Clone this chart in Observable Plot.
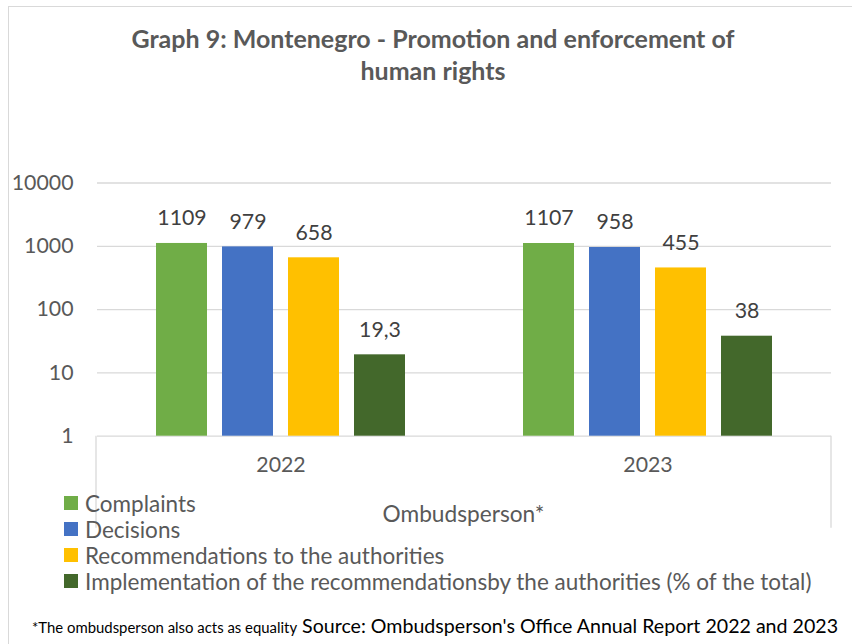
<!DOCTYPE html>
<html>
<head>
<meta charset="utf-8">
<script src="https://cdn.jsdelivr.net/npm/d3@7"></script>
<script src="https://cdn.jsdelivr.net/npm/@observablehq/plot@0.6"></script>
<style>
  html, body { margin: 0; padding: 0; background: #fff; }
  #wrap { position: relative; width: 852px; height: 644px; overflow: hidden; font-family: Lato, "Open Sans", sans-serif; }
  #frame { position: absolute; left: 8px; top: 6px; width: 900px; height: 700px; border-top: 1.5px solid #d9d9d9; border-left: 1.5px solid #d9d9d9; }
  #title { position: absolute; left: 0; width: 866px; top: 22px; text-align: center; font-weight: bold; font-size: 25px; line-height: 32px; color: #595959; }
  #chart { position: absolute; left: 0; top: 0; }
  #legend { position: absolute; left: 64px; top: 490px; font-size: 22.5px; color: #595959; }
  #legend .row { display: flex; align-items: center; height: 26px; white-space: nowrap; }
  #legend .sw { width: 14px; height: 14px; margin-right: 7px; }
  #foot { position: absolute; left: 32px; top: 614px; white-space: nowrap; }
  #foot .small { font-size: 14.9px; color: #000; }
  #foot .big { font-size: 19.6px; color: #000; margin-left: 5px; }
</style>
</head>
<body>
<div id="wrap">
  <div id="frame"></div>
  <div id="chart"></div>
  <div id="title"></div>
  <div id="legend"></div>
  <div id="foot"></div>
</div>
<script>
const titleLines = ["Graph 9: Montenegro - Promotion and enforcement of", "human rights"];
const years = ["2022", "2023"];
const series = [
  "Complaints",
  "Decisions",
  "Recommendations to the authorities",
  "Implementation of the recommendationsby the authorities (% of the total)"
];
const values2022 = [1109, 979, 658, 19.3];
const values2023 = [1107, 958, 455, 38];
const labels2022 = ["1109", "979", "658", "19,3"];
const labels2023 = ["1107", "958", "455", "38"];
const colors = ["#70AD47", "#4472C4", "#FFC000", "#43682B"];
const yTicks = [1, 10, 100, 1000, 10000];
const xAxisTitle = "Ombudsperson*";
const footSmall = "*The ombudsperson also acts as equality";
const footBig = "Source: Ombudsperson's Office Annual Report 2022 and 2023";

const data = [];
series.forEach((s, i) => {
  data.push({year: years[0], series: s, value: values2022[i], label: labels2022[i]});
  data.push({year: years[1], series: s, value: values2023[i], label: labels2023[i]});
});

const W = 852, H = 644, mL = 96, mR = 21, mT = 182.5, mB = 208.3;
const font = "Lato, 'Open Sans', sans-serif";

const plot = Plot.plot({
  width: W, height: H,
  marginTop: mT, marginBottom: mB, marginLeft: mL, marginRight: mR,
  style: {fontFamily: font, background: "transparent", overflow: "visible"},
  fx: {domain: years, padding: 0, label: null},
  x: {domain: series, paddingInner: 0.22, paddingOuter: 0.865, axis: null},
  y: {type: "log", domain: [1, 10000], label: null},
  color: {domain: series, range: colors},
  marks: [
    Plot.gridY(yTicks, {stroke: "#d9d9d9", strokeOpacity: 1, strokeWidth: 1.3}),
    Plot.barY(data, {fx: "year", x: "series", y1: 1, y2: "value", fill: "series"}),
    Plot.text(data, {fx: "year", x: "series", y: "value", text: "label", dy: -25, lineAnchor: "middle", fill: "#404040", fontSize: 21.3}),
    Plot.axisY(yTicks, {tickSize: 0, tickPadding: 24, fontSize: 21.3, fill: "#595959", tickFormat: d => String(d), label: null}),
    Plot.axisFx({anchor: "bottom", tickSize: 0, tickPadding: 21, fontSize: 21.3, fill: "#595959", label: null})
  ]
});
document.getElementById("chart").appendChild(plot);

// category box lines below the axis
const ys = plot.scale("y");
const y1 = ys.apply(1);
const svg = d3.select(plot);
[mL, W - mR].forEach(x => {
  svg.append("line").attr("x1", x).attr("x2", x).attr("y1", y1).attr("y2", y1 + 92)
    .attr("stroke", "#d9d9d9").attr("stroke-width", 1.3);
});
// outer category label
svg.append("text").attr("x", (mL + W - mR) / 2).attr("y", y1 + 78).attr("dy", "0.35em")
  .attr("text-anchor", "middle").attr("font-size", 22.7).attr("font-family", font)
  .attr("fill", "#595959").text(xAxisTitle);

document.getElementById("title").innerHTML = titleLines.join("<br>");
const legend = d3.select("#legend");
series.forEach((s, i) => {
  const row = legend.append("div").attr("class", "row");
  row.append("div").attr("class", "sw").style("background", colors[i]);
  row.append("span").text(s);
});
const foot = d3.select("#foot");
foot.append("span").attr("class", "small").text(footSmall);
foot.append("span").attr("class", "big").text(footBig);
</script>
</body>
</html>
